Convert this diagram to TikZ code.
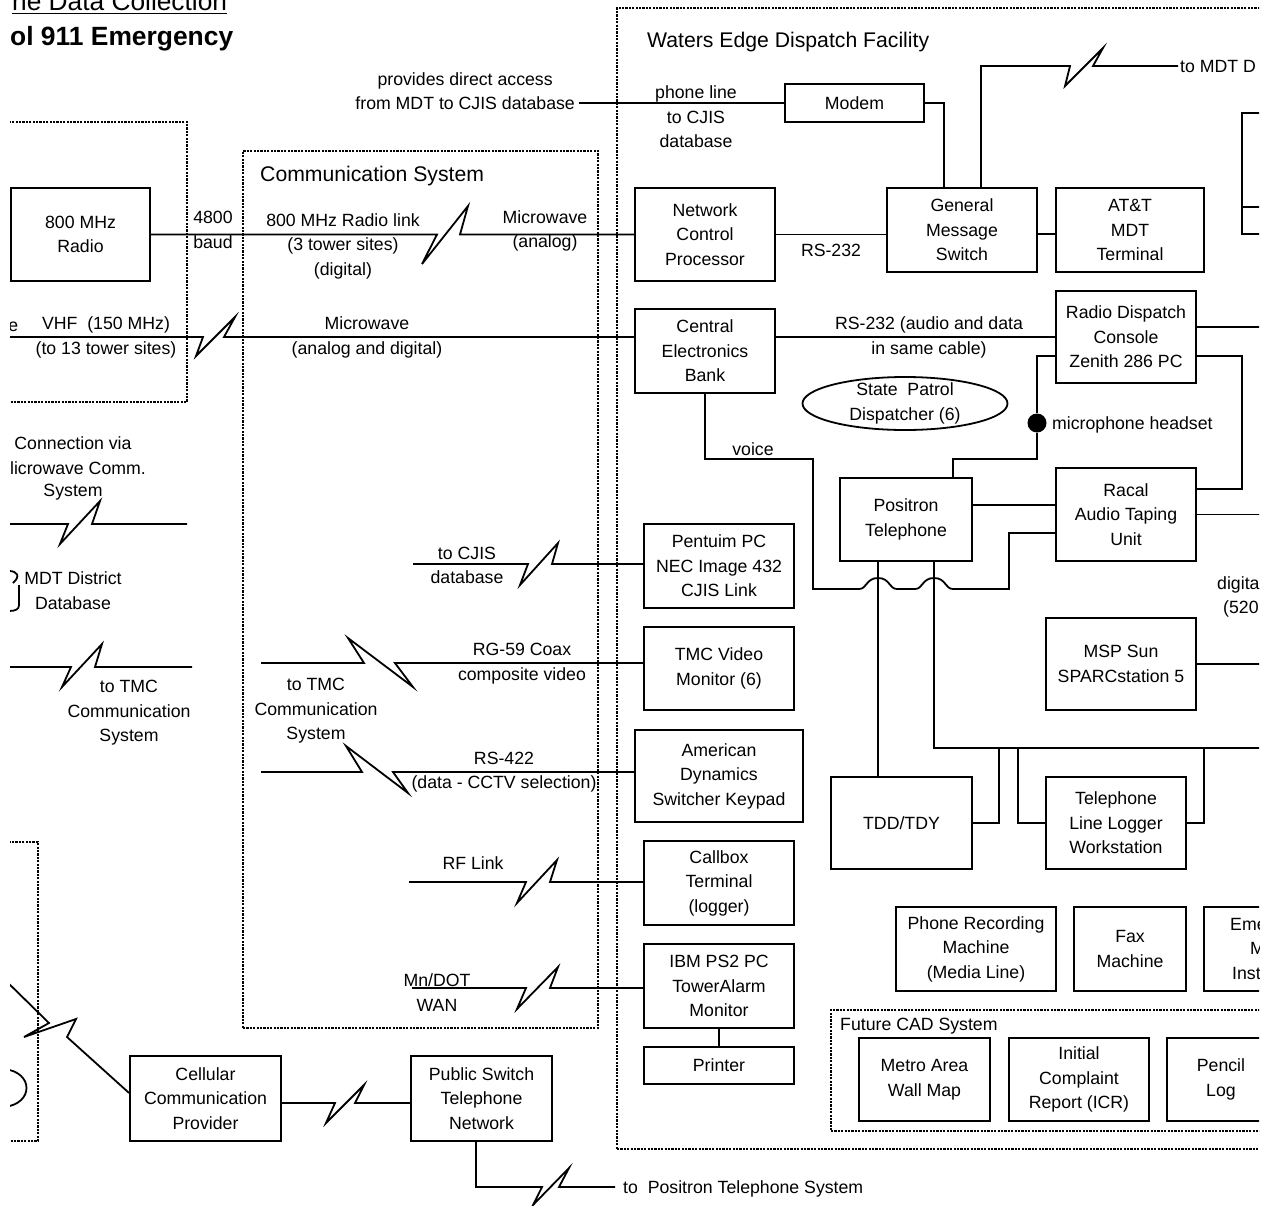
\documentclass[tikz,border=0pt]{standalone}
\usepackage{fontspec}
\setmainfont{Liberation Sans}
\usetikzlibrary{shapes.geometric,calc}
\newcommand\mkbox[6]{\node[box,minimum width={(#4-#2)*1pt},minimum height={(#5-#3)*1pt}] (#1) at ({(#2+#4)/2},{(#3+#5)/2}) {#6};}
\newcommand\mkgrp[5]{\node[grp,minimum width={(#4-#2)*1pt},minimum height={(#5-#3)*1pt}] (#1) at ({(#2+#4)/2},{(#3+#5)/2}) {};}
\begin{document}
\begin{tikzpicture}[x=1pt,y=-1pt,
  every node/.style={font=\fontsize{17.7}{24.5}\selectfont, inner sep=0pt},
  box/.style={draw, line width=1.8pt, rectangle, align=center},
  grp/.style={draw, line width=1.5pt, dash pattern=on 2.2pt off 1.2pt, rectangle},
  wire/.style={line width=1.8pt},
  lbl/.style={align=center},
  big/.style={font=\fontsize{21.2}{26}\selectfont}]
\useasboundingbox (0,0) rectangle (1269,1205);
\clip (10,0) rectangle (1259,1205);

% titles
\node[anchor=base west, font=\fontsize{26.3}{30}\selectfont] (t1) at (12,10.5) {ne Data Collection};
\draw[line width=1.3pt] ($(t1.base west)+(0,2.8)$) -- ($(t1.base east)+(0,2.8)$);
\node[anchor=base west, font=\fontsize{26.4}{30}\selectfont\bfseries] (t2) at (10,45.5) {ol 911 Emergency};

% group boxes
\mkgrp{radiogrp}{-20}{122}{187}{402}
\mkgrp{commgrp}{243}{151}{598}{1028}
\mkgrp{wedgegrp}{617}{8}{1320}{1149}
\mkgrp{lowgrp}{-20}{842}{38}{1141}
\mkgrp{cadgrp}{831}{1010}{1320}{1131}
\node[big, anchor=base west] (wlab) at (647,47) {Waters Edge Dispatch Facility};
\node[big, anchor=base west] (clab) at (260,181) {Communication System};
\node[anchor=base west] (flab) at (840,1030) {Future CAD System};

% boxes
\mkbox{radio}{11}{188}{150}{281}{800 MHz\\Radio}
\mkbox{modem}{785}{84}{924}{122}{Modem}
\mkbox{ncp}{635}{188}{775}{281}{Network\\Control\\Processor}
\mkbox{gms}{887}{188}{1037}{272}{General\\Message\\Switch}
\mkbox{att}{1056}{188}{1204}{272}{AT\&T\\MDT\\Terminal}
\mkbox{rbox}{1242}{113}{1320}{234}{}
\draw[wire] ([yshift=-33.5pt]rbox.west) -- ([yshift=-33.5pt]rbox.east);
\mkbox{ceb}{635}{309}{775}{393}{Central\\Electronics\\Bank}
\mkbox{rdc}{1056}{291}{1196}{383}{Radio Dispatch\\Console\\Zenith 286 PC}
\node[draw, ellipse, line width=1.8pt, minimum width=205pt, minimum height=53pt] (spd) at (905,403.5) {};
\node[lbl] (spdt) at (spd) {State\ \ Patrol\\Dispatcher (6)};
\mkbox{pos}{840}{478}{972}{561}{Positron\\Telephone}
\mkbox{racal}{1056}{468}{1196}{561}{Racal\\Audio Taping\\Unit}
\mkbox{msp}{1046}{618}{1196}{710}{MSP Sun\\SPARCstation 5}
\mkbox{pent}{644}{524}{794}{608}{Pentuim PC\\NEC Image 432\\CJIS Link}
\mkbox{tmc}{644}{627}{794}{710}{TMC Video\\Monitor (6)}
\mkbox{amd}{635}{730}{803}{822}{American\\Dynamics\\Switcher Keypad}
\mkbox{callbox}{644}{841}{794}{925}{Callbox\\Terminal\\(logger)}
\mkbox{ibm}{644}{944}{794}{1028}{IBM PS2 PC\\TowerAlarm\\Monitor}
\mkbox{printer}{644}{1047}{794}{1084}{Printer}
\mkbox{tdd}{831}{777}{972}{869}{TDD/TDY}
\mkbox{logger}{1046}{777}{1186}{869}{Telephone\\Line Logger\\Workstation}
\mkbox{phrec}{896}{907}{1056}{991}{Phone Recording\\Machine\\(Media Line)}
\mkbox{fax}{1074}{907}{1186}{991}{Fax\\Machine}
\mkbox{emi}{1204}{907}{1345}{991}{}
\node[anchor=base west] (emi1) at (1230,930) {Eme};
\node[anchor=base west] (emi2) at (1250,954) {M};
\node[anchor=base west] (emi3) at (1232,979) {Inst};
\mkbox{metro}{859}{1038}{990}{1121}{Metro Area\\Wall Map}
\mkbox{icr}{1009}{1038}{1149}{1121}{Initial\\Complaint\\Report (ICR)}
\mkbox{pencil}{1167}{1038}{1275}{1121}{Pencil\\Log}
\mkbox{cell}{130}{1056}{281}{1141}{Cellular\\Communication\\Provider}
\mkbox{pstn}{411}{1056}{552}{1141}{Public Switch\\Telephone\\Network}
\node[circle, fill, minimum size=19pt] (mic) at (1037,423) {};

% labels
\node[lbl] (l4800) at (213,230) {4800\\baud};
\node[lbl] (l800) at (343,246) {800 MHz Radio link\\(3 tower sites)\\(digital)};
\node[lbl] (lmw1) at (545,231) {Microwave\\(analog)};
\node[anchor=base east] (le) at (18.5,331) {e};
\node[lbl] (lvhf) at (106,337.5) {VHF\ \ (150 MHz)\\(to 13 tower sites)};
\node[lbl] (lmw2) at (367,337.5) {Microwave\\(analog and digital)};
\node[lbl, anchor=east] (lprov) at (575,91) {provides direct access\\from MDT to CJIS database};
\node[lbl] (lphone) at (696,117) {phone line\\to CJIS\\database};
\node (lrs1) at (831,250) {RS-232};
\node[lbl] (lrs2) at (929,337.5) {RS-232 (audio and data\\in same cable)};
\node[anchor=base west] (lmdtd) at (1180,72) {to MDT D};
\node[anchor=base] (lvoice) at (753,455) {voice};
\node[anchor=base west] (lmic) at (1052,429) {microphone headset};
\node[anchor=base west] (ldig1) at (1217,589) {digita};
\node[anchor=base west] (ldig2) at (1223,613) {(520};
\node[lbl] (lcjis) at (467,565.5) {to CJIS\\database};
\node[lbl] (lrg) at (522,663.5) {RG-59 Coax\\composite video};
\node[lbl] (ltmc2) at (316,711) {to TMC\\Communication\\System};
\node[lbl] (lrs4) at (504,772) {RS-422\\(data - CCTV selection)};
\node[anchor=base] (lrf) at (473,869) {RF Link};
\node[lbl] (lmn) at (437,992.5) {Mn/DOT\\WAN};
\node (lconn) at (73,443) {Connection via};
\node[anchor=east] (lmicro) at (146,468) {licrowave Comm.};
\node (lsys) at (73,492) {System};
\node[lbl] (lmdt) at (73,590.5) {MDT District\\Database};
\node[lbl] (ltmc1) at (129,713) {to TMC\\Communication\\System};
\node[anchor=base west] (lpos) at (623,1193) {to\ \ Positron Telephone System};

% connectors
\draw[wire] (radio.east) -- (437,234.5) -- (422,264) -- (468,206) -- (460,234.5) -- (ncp.west);
\coordinate (vhfL) at (0,337);
\draw[wire] (vhfL) -- (203,337) -- (196,356) -- (235,317) -- (224,337) -- ($(ceb.west)+(0,-14)$);
\coordinate (m1L) at (0,524); \coordinate (m1R) at (187,524);
\draw[wire] (m1L) -- (68,524) -- (60,544) -- (100,501) -- (92,524) -- (m1R);
\coordinate (m2L) at (0,667); \coordinate (m2R) at (192,667);
\draw[wire] (m2L) -- (71,667) -- (62,687) -- (102,644) -- (95,667) -- (m2R);
\coordinate (tvL) at (261,663);
\draw[wire] (tvL) -- (364,663) -- (348,638) -- (413,687) -- (395,663) -- ($(tmc.west)+(0,-5.5)$);
\coordinate (r4L) at (261,772);
\draw[wire] (r4L) -- (362,772) -- (346,746) -- (408,793) -- (393,772) -- ($(amd.west)+(0,-4)$);
\coordinate (cjL) at (413,564);
\draw[wire] (cjL) -- (528,564) -- (520,585) -- (558,543) -- (552,564) -- ($(pent.west)+(0,-2)$);
\coordinate (rfL) at (409,882);
\draw[wire] (rfL) -- (526,882) -- (517,903) -- (557,860) -- (550,882) -- ($(callbox.west)+(0,-1)$);
\coordinate (mnL) at (412,988);
\draw[wire] (mnL) -- (526,988) -- (517,1009) -- (558,967) -- (550,988) -- ($(ibm.west)+(0,2)$);
\draw[wire] (ibm.south) -- (printer.north);
\coordinate (provR) at (579,103);
\draw[wire] (provR) -- (modem.west);
\draw[wire] (modem.east) -| ($(gms.north)+(-18,0)$);
\coordinate (mdtD) at (1178,66);
\draw[wire] ($(gms.north)+(19,0)$) |- (1070,66) -- (1065,86) -- (1103,48) -- (1093,66) -- (mdtD);
\draw[wire] (ncp.east) -- (ncp.east -| gms.west);
\draw[wire] ($(gms.east)+(0,4)$) -- ($(att.west)+(0,4)$);
\draw[wire] ($(ceb.east)+(0,-14)$) -- (rdc.west);
\coordinate (rdcR) at (1300,327);
\draw[wire] ($(rdc.east)+(0,-10)$) -- (rdcR);
\draw[wire] ($(rdc.east)+(0,19)$) -- (1242,356) -- (1242,489) -- ($(racal.east)+(0,-25.5)$);
\coordinate (racR) at (1300,514.5);
\draw[wire] (racal.east) -- (racR);
\coordinate (mspR) at (1300,664);
\draw[wire] (msp.east) -- (mspR);
\draw[wire] ($(rdc.west)+(0,19)$) -| (mic);
\draw[wire] (mic) |- (953,459) -- ($(pos.north)+(47,0)$);
\draw[wire] ($(pos.east)+(0,-14.5)$) -- ($(racal.west)+(0,-9.5)$);
\draw[wire] (ceb.south) |- (813,459) -- (813,589) -- (859,589)
  .. controls (867,589) and (866,578) .. (878,578) .. controls (890,578) and (889,589) .. (897,589)
  -- (915,589) .. controls (923,589) and (922,578) .. (934,578) .. controls (946,578) and (945,589) .. (953,589)
  -- (1009,589) -- (1009,533) -- ($(racal.west)+(0,18.5)$);
\draw[wire] ($(pos.south)+(-28,0)$) -- ($(tdd.north)+(-23.5,0)$);
\coordinate (busR) at (1300,748);
\draw[wire] ($(pos.south)+(28,0)$) |- (busR);
\coordinate (b1) at (999,748); \coordinate (b2) at (1018,748); \coordinate (b3) at (1204,748);
\draw[wire] (b1) |- (tdd.east);
\draw[wire] (b2) |- (logger.west);
\draw[wire] (b3) |- (logger.east);
\coordinate (cl) at (0,975);
\draw[wire] (cl) -- (49,1023) -- (24,1037) -- (76,1019) -- (67,1037) -- ($(cell.west)+(0,-5.5)$);
\draw[wire] ($(cell.east)+(0,4.5)$) -- (335,1103) -- (326,1123) -- (364,1085) -- (355,1103) -- ($(pstn.west)+(0,4.5)$);
\coordinate (posT) at (615,1187);
\draw[wire] ($(pstn.south)+(-5.5,0)$) |- (542,1187) -- (533,1205) -- (569,1168) -- (559,1187) -- (posT);

% partial shapes at the left edge
\draw[wire] (4,1069) .. controls (34,1072) and (34,1104) .. (4,1107);
\draw[wire] (9,571) .. controls (17,571) and (21,576) .. (13,583);
\draw[wire] (19,585) -- (19,605) .. controls (19,609) and (16,611) .. (9,611);
\end{tikzpicture}
\end{document}
